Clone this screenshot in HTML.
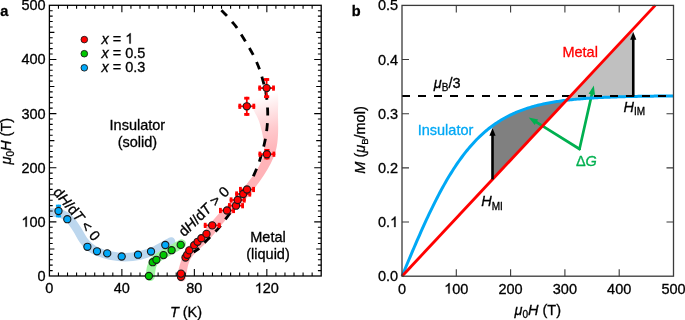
<!DOCTYPE html>
<html><head><meta charset="utf-8"><style>
html,body{margin:0;padding:0;background:#fff;width:685px;height:320px;overflow:hidden}
svg{display:block;will-change:transform}
text{font-family:"Liberation Sans", sans-serif;font-size:14.5px;stroke-width:0.3px}
</style></head><body>
<svg width="685" height="320" viewBox="0 0 685 320">
<style>text{stroke:#000}</style>
<rect width="685" height="320" fill="#fff"/>
<clipPath id="ca"><rect x="49.4" y="0" width="272" height="320"/></clipPath>
<path d="M50 212.5 C51.33 212.58 55.5 212.48 58 213 C60.5 213.52 62.83 214.3 65 215.6 C67.17 216.9 68.95 218.43 71 220.8 C73.05 223.17 75.25 226.6 77.3 229.8 C79.35 233 81.27 237.17 83.3 240 C85.33 242.83 87.13 244.87 89.5 246.8 C91.87 248.73 94.08 250.15 97.5 251.6 C100.92 253.05 105.42 254.57 110 255.5 C114.58 256.43 120 257.2 125 257.2 C130 257.2 135 256.65 140 255.5 C145 254.35 149.83 252.63 155 250.3 C160.17 247.97 168.33 242.97 171 241.5" fill="none" stroke="#bdd7ee" stroke-width="8.6" stroke-linecap="round" clip-path="url(#ca)"/>
<path d="M150.3 276.5 C150.47 275.08 150.6 270.67 151.3 268 C152 265.33 152.63 262.7 154.5 260.5 C156.37 258.3 159.65 256.62 162.5 254.8 C165.35 252.98 168.43 251.43 171.6 249.6 C174.77 247.77 179.85 244.77 181.5 243.8" fill="none" stroke="#a0f5a0" stroke-width="9" stroke-linecap="round"/>
<defs><linearGradient id="rg" gradientUnits="userSpaceOnUse" x1="256" y1="98" x2="272" y2="152"><stop offset="0" stop-color="#ffb3b8" stop-opacity="0"/><stop offset="0.25" stop-color="#ffb3b8" stop-opacity="0.3"/><stop offset="0.6" stop-color="#ffb3b8" stop-opacity="0.7"/><stop offset="1" stop-color="#ffb3b8" stop-opacity="1"/></linearGradient></defs>
<path d="M186 277 C186.12 276.17 186.18 274.5 186.7 272 C187.22 269.5 188.05 264.75 189.1 262 C190.15 259.25 191.27 257.67 193 255.5 C194.73 253.33 197.08 251.33 199.5 249 C201.92 246.67 204.67 244.5 207.5 241.5 C210.33 238.5 213.5 234.58 216.5 231 C219.5 227.42 222.33 223.5 225.5 220 C228.67 216.5 232.17 213.42 235.5 210 C238.83 206.58 242.17 203.33 245.5 199.5 C248.83 195.67 252.42 191.08 255.5 187 C258.58 182.92 261.42 179 264 175 C266.58 171 269 167.17 271 163 C273 158.83 274.83 154.67 276 150 C277.17 145.33 277.67 140.83 278 135 C278.33 129.17 278.08 122.17 278 115 C277.92 107.83 278.83 97.17 277.5 92 C276.17 86.83 273.25 84 270 84 C266.75 84 261.5 89.17 258 92 C254.5 94.83 249.75 98 249 101 C248.25 104 251.92 106.83 253.5 110 C255.08 113.17 257.08 116.33 258.5 120 C259.92 123.67 261.08 127.83 262 132 C262.92 136.17 263.75 141.17 264 145 C264.25 148.83 264.5 151.17 263.5 155 C262.5 158.83 260.42 163.67 258 168 C255.58 172.33 252.17 176.75 249 181 C245.83 185.25 242.42 189.67 239 193.5 C235.58 197.33 231.92 200.58 228.5 204 C225.08 207.42 221.67 210.58 218.5 214 C215.33 217.42 212.5 220.92 209.5 224.5 C206.5 228.08 203.33 232.58 200.5 235.5 C197.67 238.42 195.08 239.5 192.5 242 C189.92 244.5 186.97 247.17 185 250.5 C183.03 253.83 181.88 258.42 180.7 262 C179.52 265.58 178.52 269.5 177.9 272 C177.28 274.5 177.15 276.17 177 277 A4.5 4.5 0 0 0 186 277 Z" fill="url(#rg)" stroke="none"/>
<rect x="49.4" y="5.3" width="271.8" height="270.7" fill="none" stroke="#000" stroke-width="1.3"/>
<path d="M58.46 276 V272.5 M58.46 5.3 V8.8 M67.52 276 V272.5 M67.52 5.3 V8.8 M76.58 276 V272.5 M76.58 5.3 V8.8 M85.64 276 V272.5 M85.64 5.3 V8.8 M94.7 276 V272.5 M94.7 5.3 V8.8 M103.76 276 V272.5 M103.76 5.3 V8.8 M112.82 276 V272.5 M112.82 5.3 V8.8 M121.88 276 V269 M121.88 5.3 V12.3 M130.94 276 V272.5 M130.94 5.3 V8.8 M140 276 V272.5 M140 5.3 V8.8 M149.06 276 V272.5 M149.06 5.3 V8.8 M158.12 276 V272.5 M158.12 5.3 V8.8 M167.18 276 V272.5 M167.18 5.3 V8.8 M176.24 276 V272.5 M176.24 5.3 V8.8 M185.3 276 V272.5 M185.3 5.3 V8.8 M194.36 276 V269 M194.36 5.3 V12.3 M203.42 276 V272.5 M203.42 5.3 V8.8 M212.48 276 V272.5 M212.48 5.3 V8.8 M221.54 276 V272.5 M221.54 5.3 V8.8 M230.6 276 V272.5 M230.6 5.3 V8.8 M239.66 276 V272.5 M239.66 5.3 V8.8 M248.72 276 V272.5 M248.72 5.3 V8.8 M257.78 276 V272.5 M257.78 5.3 V8.8 M266.84 276 V269 M266.84 5.3 V12.3 M275.9 276 V272.5 M275.9 5.3 V8.8 M284.96 276 V272.5 M284.96 5.3 V8.8 M294.02 276 V272.5 M294.02 5.3 V8.8 M303.08 276 V272.5 M303.08 5.3 V8.8 M312.14 276 V272.5 M312.14 5.3 V8.8 M49.4 270.59 H52.7 M321.2 270.59 H317.9 M49.4 265.17 H52.7 M321.2 265.17 H317.9 M49.4 259.76 H52.7 M321.2 259.76 H317.9 M49.4 254.34 H52.7 M321.2 254.34 H317.9 M49.4 248.93 H54.4 M321.2 248.93 H316.2 M49.4 243.52 H52.7 M321.2 243.52 H317.9 M49.4 238.1 H52.7 M321.2 238.1 H317.9 M49.4 232.69 H52.7 M321.2 232.69 H317.9 M49.4 227.27 H52.7 M321.2 227.27 H317.9 M49.4 221.86 H56.4 M321.2 221.86 H314.2 M49.4 216.45 H52.7 M321.2 216.45 H317.9 M49.4 211.03 H52.7 M321.2 211.03 H317.9 M49.4 205.62 H52.7 M321.2 205.62 H317.9 M49.4 200.2 H52.7 M321.2 200.2 H317.9 M49.4 194.79 H54.4 M321.2 194.79 H316.2 M49.4 189.38 H52.7 M321.2 189.38 H317.9 M49.4 183.96 H52.7 M321.2 183.96 H317.9 M49.4 178.55 H52.7 M321.2 178.55 H317.9 M49.4 173.13 H52.7 M321.2 173.13 H317.9 M49.4 167.72 H56.4 M321.2 167.72 H314.2 M49.4 162.31 H52.7 M321.2 162.31 H317.9 M49.4 156.89 H52.7 M321.2 156.89 H317.9 M49.4 151.48 H52.7 M321.2 151.48 H317.9 M49.4 146.06 H52.7 M321.2 146.06 H317.9 M49.4 140.65 H54.4 M321.2 140.65 H316.2 M49.4 135.24 H52.7 M321.2 135.24 H317.9 M49.4 129.82 H52.7 M321.2 129.82 H317.9 M49.4 124.41 H52.7 M321.2 124.41 H317.9 M49.4 118.99 H52.7 M321.2 118.99 H317.9 M49.4 113.58 H56.4 M321.2 113.58 H314.2 M49.4 108.17 H52.7 M321.2 108.17 H317.9 M49.4 102.75 H52.7 M321.2 102.75 H317.9 M49.4 97.34 H52.7 M321.2 97.34 H317.9 M49.4 91.92 H52.7 M321.2 91.92 H317.9 M49.4 86.51 H54.4 M321.2 86.51 H316.2 M49.4 81.1 H52.7 M321.2 81.1 H317.9 M49.4 75.68 H52.7 M321.2 75.68 H317.9 M49.4 70.27 H52.7 M321.2 70.27 H317.9 M49.4 64.85 H52.7 M321.2 64.85 H317.9 M49.4 59.44 H56.4 M321.2 59.44 H314.2 M49.4 54.03 H52.7 M321.2 54.03 H317.9 M49.4 48.61 H52.7 M321.2 48.61 H317.9 M49.4 43.2 H52.7 M321.2 43.2 H317.9 M49.4 37.78 H52.7 M321.2 37.78 H317.9 M49.4 32.37 H54.4 M321.2 32.37 H316.2 M49.4 26.96 H52.7 M321.2 26.96 H317.9 M49.4 21.54 H52.7 M321.2 21.54 H317.9 M49.4 16.13 H52.7 M321.2 16.13 H317.9 M49.4 10.71 H52.7 M321.2 10.71 H317.9" stroke="#000" stroke-width="1.1" fill="none"/>
<text x="49.4" y="293.1" text-anchor="middle">0</text>
<text x="121.88" y="293.1" text-anchor="middle">40</text>
<text x="194.36" y="293.1" text-anchor="middle">80</text>
<text x="266.84" y="293.1" text-anchor="middle">&#8199;20</text>
<text x="45.6" y="281" text-anchor="end">0</text>
<text x="45.6" y="226.86" text-anchor="end">&#8199;00</text>
<text x="45.6" y="172.72" text-anchor="end">200</text>
<text x="45.6" y="118.58" text-anchor="end">300</text>
<text x="45.6" y="64.44" text-anchor="end">400</text>
<text x="45.6" y="10.3" text-anchor="end">500</text>
<text x="186" y="317" text-anchor="middle"><tspan font-style="italic">T</tspan> (K)</text>
<text transform="translate(11.1 141.2) rotate(-90)" text-anchor="middle"><tspan font-style="italic">&#956;</tspan><tspan font-size="10" dy="3">0</tspan><tspan font-style="italic" dy="-3">H</tspan> (T)</text>
<text x="0.3" y="15.6" font-weight="bold">a</text>
<path d="M216.5 5.3 C217.32 6.13 219.8 8.68 221.4 10.3 C223 11.92 224.3 13.05 226.1 15 C227.9 16.95 230.45 19.93 232.2 22 C233.95 24.07 235.17 25.42 236.6 27.4 C238.03 29.38 239.37 31.63 240.8 33.9 C242.23 36.17 243.8 38.7 245.2 41 C246.6 43.3 247.88 45.42 249.2 47.7 C250.52 49.98 251.82 52.2 253.1 54.7 C254.38 57.2 255.82 60.22 256.9 62.7 C257.98 65.18 258.73 67.1 259.6 69.6 C260.47 72.1 261.35 75.13 262.1 77.7 C262.85 80.27 263.47 82.45 264.1 85 C264.73 87.55 265.42 90.42 265.9 93 C266.38 95.58 266.72 97.83 267 100.5 C267.28 103.17 267.48 106.33 267.6 109 C267.72 111.67 267.75 113.93 267.7 116.5 C267.65 119.07 267.5 121.78 267.3 124.4 C267.1 127.02 266.83 129.68 266.5 132.2 C266.17 134.72 265.78 137.05 265.3 139.5 C264.82 141.95 264.2 144.52 263.6 146.9 C263 149.28 262.4 151.37 261.7 153.8 C261 156.23 260.27 158.97 259.4 161.5 C258.53 164.03 257.57 166.42 256.5 169 C255.43 171.58 253.58 175.67 253 177" fill="none" stroke="#000" stroke-width="2.8" stroke-dasharray="8 7.7" stroke-dashoffset="8.7"/>
<path d="M238 202 C237.2 203.13 234.82 206.55 233.2 208.8 C231.58 211.05 229.9 213.35 228.3 215.5 C226.7 217.65 225.18 219.65 223.6 221.7 C222.02 223.75 220.43 225.88 218.8 227.8 C217.17 229.72 215.48 231.43 213.8 233.2 C212.12 234.97 210.3 236.77 208.7 238.4 C207.1 240.03 205.68 241.43 204.2 243 C202.72 244.57 201.57 246.28 199.8 247.8 C198.03 249.32 194.63 251.38 193.6 252.1" fill="none" stroke="#000" stroke-width="2.8" stroke-dasharray="8 7.7" stroke-dashoffset="2.2"/>
<path d="M58.5 204.7 V217.3" stroke="#00a9fa" stroke-width="1.8" fill="none"/><rect x="55.9" y="204.7" width="5.2" height="2.2" fill="#00a9fa"/><rect x="55.9" y="215.1" width="5.2" height="2.2" fill="#00a9fa"/>
<circle cx="58.5" cy="211" r="3.6" fill="#00a9fa" stroke="#1a1a1a" stroke-width="1.1"/>
<circle cx="67.3" cy="219.2" r="3.6" fill="#00a9fa" stroke="#1a1a1a" stroke-width="1.1"/>
<circle cx="87.4" cy="246.8" r="3.6" fill="#00a9fa" stroke="#1a1a1a" stroke-width="1.1"/>
<circle cx="97" cy="251.3" r="3.6" fill="#00a9fa" stroke="#1a1a1a" stroke-width="1.1"/>
<circle cx="107.2" cy="253.4" r="3.6" fill="#00a9fa" stroke="#1a1a1a" stroke-width="1.1"/>
<circle cx="121.7" cy="256.5" r="3.6" fill="#00a9fa" stroke="#1a1a1a" stroke-width="1.1"/>
<circle cx="138" cy="254.7" r="3.6" fill="#00a9fa" stroke="#1a1a1a" stroke-width="1.1"/>
<circle cx="151" cy="251.5" r="3.6" fill="#00a9fa" stroke="#1a1a1a" stroke-width="1.1"/>
<circle cx="165.3" cy="245" r="3.6" fill="#00a9fa" stroke="#1a1a1a" stroke-width="1.1"/>
<circle cx="148.9" cy="276" r="3.6" fill="#00c800" stroke="#1a1a1a" stroke-width="1.1"/>
<circle cx="152.7" cy="262.2" r="3.6" fill="#00c800" stroke="#1a1a1a" stroke-width="1.1"/>
<circle cx="156.4" cy="259.8" r="3.6" fill="#00c800" stroke="#1a1a1a" stroke-width="1.1"/>
<circle cx="163.5" cy="255.1" r="3.6" fill="#00c800" stroke="#1a1a1a" stroke-width="1.1"/>
<circle cx="171.6" cy="250.2" r="3.6" fill="#00c800" stroke="#1a1a1a" stroke-width="1.1"/>
<circle cx="180.7" cy="244.9" r="3.6" fill="#00c800" stroke="#1a1a1a" stroke-width="1.1"/>
<path d="M258.3 88.1 H274.9" stroke="#ff0000" stroke-width="1.8" fill="none"/><rect x="258.3" y="85.5" width="2.8" height="5.2" fill="#ff0000"/><rect x="272.1" y="85.5" width="2.8" height="5.2" fill="#ff0000"/><path d="M266.6 78.1 V98.1" stroke="#ff0000" stroke-width="1.8" fill="none"/><rect x="264" y="78.1" width="5.2" height="2.8" fill="#ff0000"/><rect x="264" y="95.3" width="5.2" height="2.8" fill="#ff0000"/>
<path d="M238.4 106.3 H255.2" stroke="#ff0000" stroke-width="1.8" fill="none"/><rect x="238.4" y="103.7" width="2.8" height="5.2" fill="#ff0000"/><rect x="252.4" y="103.7" width="2.8" height="5.2" fill="#ff0000"/><path d="M246.8 96.8 V115.8" stroke="#ff0000" stroke-width="1.8" fill="none"/><rect x="244.2" y="96.8" width="5.2" height="2.8" fill="#ff0000"/><rect x="244.2" y="113" width="5.2" height="2.8" fill="#ff0000"/>
<path d="M258.5 154.2 H275.3" stroke="#ff0000" stroke-width="1.8" fill="none"/><rect x="258.5" y="151.6" width="2.8" height="5.2" fill="#ff0000"/><rect x="272.5" y="151.6" width="2.8" height="5.2" fill="#ff0000"/><path d="M266.9 149 V159.4" stroke="#ff0000" stroke-width="1.8" fill="none"/><rect x="264.3" y="149" width="5.2" height="2.8" fill="#ff0000"/><rect x="264.3" y="156.6" width="5.2" height="2.8" fill="#ff0000"/>
<path d="M239 189.5 H255" stroke="#ff0000" stroke-width="1.8" fill="none"/><rect x="239" y="186.9" width="2.8" height="5.2" fill="#ff0000"/><rect x="252.2" y="186.9" width="2.8" height="5.2" fill="#ff0000"/><path d="M247 186.5 V192.5" stroke="#ff0000" stroke-width="1.8" fill="none"/><rect x="244.4" y="186.5" width="5.2" height="2.8" fill="#ff0000"/><rect x="244.4" y="189.7" width="5.2" height="2.8" fill="#ff0000"/>
<path d="M235.2 194 H251.2" stroke="#ff0000" stroke-width="1.8" fill="none"/><rect x="235.2" y="191.4" width="2.8" height="5.2" fill="#ff0000"/><rect x="248.4" y="191.4" width="2.8" height="5.2" fill="#ff0000"/><path d="M243.2 191 V197" stroke="#ff0000" stroke-width="1.8" fill="none"/><rect x="240.6" y="191" width="5.2" height="2.8" fill="#ff0000"/><rect x="240.6" y="194.2" width="5.2" height="2.8" fill="#ff0000"/>
<path d="M229.7 200 H245.7" stroke="#ff0000" stroke-width="1.8" fill="none"/><rect x="229.7" y="197.4" width="2.8" height="5.2" fill="#ff0000"/><rect x="242.9" y="197.4" width="2.8" height="5.2" fill="#ff0000"/><path d="M237.7 197 V203" stroke="#ff0000" stroke-width="1.8" fill="none"/><rect x="235.1" y="197" width="5.2" height="2.8" fill="#ff0000"/><rect x="235.1" y="200.2" width="5.2" height="2.8" fill="#ff0000"/>
<path d="M228 205.7 H244" stroke="#ff0000" stroke-width="1.8" fill="none"/><rect x="228" y="203.1" width="2.8" height="5.2" fill="#ff0000"/><rect x="241.2" y="203.1" width="2.8" height="5.2" fill="#ff0000"/><path d="M236 202.7 V208.7" stroke="#ff0000" stroke-width="1.8" fill="none"/><rect x="233.4" y="202.7" width="5.2" height="2.8" fill="#ff0000"/><rect x="233.4" y="205.9" width="5.2" height="2.8" fill="#ff0000"/>
<path d="M219 210.5 H235" stroke="#ff0000" stroke-width="1.8" fill="none"/><rect x="219" y="207.9" width="2.8" height="5.2" fill="#ff0000"/><rect x="232.2" y="207.9" width="2.8" height="5.2" fill="#ff0000"/><path d="M227 207.5 V213.5" stroke="#ff0000" stroke-width="1.8" fill="none"/><rect x="224.4" y="207.5" width="5.2" height="2.8" fill="#ff0000"/><rect x="224.4" y="210.7" width="5.2" height="2.8" fill="#ff0000"/>
<path d="M203.8 225.4 H220.6" stroke="#ff0000" stroke-width="1.8" fill="none"/><rect x="203.8" y="222.8" width="2.8" height="5.2" fill="#ff0000"/><rect x="217.8" y="222.8" width="2.8" height="5.2" fill="#ff0000"/><path d="M212.2 222.4 V228.4" stroke="#ff0000" stroke-width="1.8" fill="none"/><rect x="209.6" y="222.4" width="5.2" height="2.8" fill="#ff0000"/><rect x="209.6" y="225.6" width="5.2" height="2.8" fill="#ff0000"/>
<circle cx="181" cy="276.8" r="3.6" fill="#ff0000" stroke="#1a1a1a" stroke-width="1.1"/>
<circle cx="181" cy="273.6" r="3.6" fill="#ff0000" stroke="#1a1a1a" stroke-width="1.1"/>
<circle cx="185.5" cy="257.5" r="3.6" fill="#ff0000" stroke="#1a1a1a" stroke-width="1.1"/>
<circle cx="187.2" cy="254.8" r="3.6" fill="#ff0000" stroke="#1a1a1a" stroke-width="1.1"/>
<circle cx="189.3" cy="250.4" r="3.6" fill="#ff0000" stroke="#1a1a1a" stroke-width="1.1"/>
<circle cx="194.2" cy="245.2" r="3.6" fill="#ff0000" stroke="#1a1a1a" stroke-width="1.1"/>
<circle cx="197.6" cy="241.8" r="3.6" fill="#ff0000" stroke="#1a1a1a" stroke-width="1.1"/>
<circle cx="201.4" cy="238.2" r="3.6" fill="#ff0000" stroke="#1a1a1a" stroke-width="1.1"/>
<circle cx="206.5" cy="233.9" r="3.6" fill="#ff0000" stroke="#1a1a1a" stroke-width="1.1"/>
<circle cx="212.2" cy="225.4" r="3.6" fill="#ff0000" stroke="#1a1a1a" stroke-width="1.1"/>
<circle cx="227" cy="210.5" r="3.6" fill="#ff0000" stroke="#1a1a1a" stroke-width="1.1"/>
<circle cx="236" cy="205.7" r="3.6" fill="#ff0000" stroke="#1a1a1a" stroke-width="1.1"/>
<circle cx="237.7" cy="200" r="3.6" fill="#ff0000" stroke="#1a1a1a" stroke-width="1.1"/>
<circle cx="243.2" cy="194" r="3.6" fill="#ff0000" stroke="#1a1a1a" stroke-width="1.1"/>
<circle cx="247" cy="189.5" r="3.6" fill="#ff0000" stroke="#1a1a1a" stroke-width="1.1"/>
<circle cx="266.9" cy="154.2" r="3.6" fill="#ff0000" stroke="#1a1a1a" stroke-width="1.1"/>
<circle cx="246.8" cy="106.3" r="3.6" fill="#ff0000" stroke="#1a1a1a" stroke-width="1.1"/>
<circle cx="266.6" cy="88.1" r="3.6" fill="#ff0000" stroke="#1a1a1a" stroke-width="1.1"/>
<text x="137.4" y="130" text-anchor="middle">Insulator</text>
<text x="137.4" y="147.1" text-anchor="middle">(solid)</text>
<text x="268" y="241.6" text-anchor="middle">Metal</text>
<text x="268" y="258.5" text-anchor="middle">(liquid)</text>
<text transform="translate(52.6 192.4) rotate(50.5)">d<tspan font-style="italic">H</tspan>/d<tspan font-style="italic">T</tspan> &lt; 0</text>
<text transform="translate(184.3 237.3) rotate(-44)">d<tspan font-style="italic">H</tspan>/d<tspan font-style="italic">T</tspan> &gt; 0</text>
<circle cx="84.3" cy="39.6" r="3.3" fill="#ff0000" stroke="#1a1a1a" stroke-width="0.9"/>
<text x="101.5" y="43.6"><tspan font-style="italic">x</tspan> = &#8199;</text>
<circle cx="84.3" cy="53.7" r="3.3" fill="#00c800" stroke="#1a1a1a" stroke-width="0.9"/>
<text x="101.5" y="57.7"><tspan font-style="italic">x</tspan> = 0.5</text>
<circle cx="84.3" cy="67.8" r="3.3" fill="#00a9fa" stroke="#1a1a1a" stroke-width="0.9"/>
<text x="101.5" y="71.8"><tspan font-style="italic">x</tspan> = 0.3</text>
<path d="M492.5 125.79 L494.35 124.46 L496.2 123.19 L498.05 121.97 L499.9 120.8 L501.75 119.68 L503.6 118.6 L505.46 117.57 L507.31 116.58 L509.16 115.64 L511.01 114.73 L512.86 113.87 L514.71 113.04 L516.56 112.25 L518.41 111.49 L520.26 110.76 L522.11 110.07 L523.96 109.41 L525.81 108.77 L527.66 108.17 L529.51 107.59 L531.37 107.04 L533.22 106.51 L535.07 106.01 L536.92 105.53 L538.77 105.07 L540.62 104.63 L542.47 104.21 L544.32 103.81 L546.17 103.43 L548.02 103.07 L549.87 102.72 L551.72 102.39 L553.57 102.07 L555.42 101.77 L557.28 101.48 L559.13 101.21 L560.98 100.95 L562.83 100.7 L564.68 100.46 L566.53 100.24 L566.53 100.24 L564.68 102.21 L562.83 104.19 L560.98 106.17 L559.13 108.15 L557.28 110.13 L555.42 112.11 L553.57 114.09 L551.72 116.07 L549.87 118.05 L548.02 120.03 L546.17 122.01 L544.32 123.99 L542.47 125.97 L540.62 127.95 L538.77 129.93 L536.92 131.9 L535.07 133.88 L533.22 135.86 L531.37 137.84 L529.51 139.82 L527.66 141.8 L525.81 143.78 L523.96 145.76 L522.11 147.74 L520.26 149.72 L518.41 151.7 L516.56 153.68 L514.71 155.66 L512.86 157.64 L511.01 159.62 L509.16 161.6 L507.31 163.57 L505.46 165.55 L503.6 167.53 L501.75 169.51 L499.9 171.49 L498.05 173.47 L496.2 175.45 L494.35 177.43 L492.5 179.41Z" fill="#808080"/>
<path d="M566.53 100.24 L568.2 98.45 L569.87 96.67 L571.53 94.88 L573.2 93.1 L574.87 91.32 L576.54 89.53 L578.21 87.75 L579.87 85.96 L581.54 84.18 L583.21 82.4 L584.88 80.61 L586.55 78.83 L588.21 77.04 L589.88 75.26 L591.55 73.48 L593.22 71.69 L594.89 69.91 L596.55 68.12 L598.22 66.34 L599.89 64.56 L601.56 62.77 L603.23 60.99 L604.89 59.2 L606.56 57.42 L608.23 55.64 L609.9 53.85 L611.57 52.07 L613.23 50.28 L614.9 48.5 L616.57 46.72 L618.24 44.93 L619.91 43.15 L621.57 41.36 L623.24 39.58 L624.91 37.8 L626.58 36.01 L628.25 34.23 L629.91 32.44 L631.58 30.66 L633.25 28.88 L633.25 96.46 L631.58 96.49 L629.91 96.53 L628.25 96.57 L626.58 96.61 L624.91 96.65 L623.24 96.69 L621.57 96.74 L619.91 96.79 L618.24 96.84 L616.57 96.89 L614.9 96.95 L613.23 97 L611.57 97.07 L609.9 97.13 L608.23 97.19 L606.56 97.26 L604.89 97.33 L603.23 97.41 L601.56 97.49 L599.89 97.57 L598.22 97.65 L596.55 97.74 L594.89 97.84 L593.22 97.93 L591.55 98.04 L589.88 98.14 L588.21 98.25 L586.55 98.37 L584.88 98.49 L583.21 98.62 L581.54 98.75 L579.87 98.89 L578.21 99.03 L576.54 99.18 L574.87 99.34 L573.2 99.5 L571.53 99.67 L569.87 99.85 L568.2 100.04 L566.53 100.24Z" fill="#c0c0c0"/>
<path d="M528.75 117.5 L579.5 149 L594 86.25" fill="none" stroke="none"/>
<line x1="579.5" y1="149" x2="535.55" y2="121.72" stroke="#00b050" stroke-width="2.7" stroke-linecap="round"/><path d="M528.75 117.5 L538.14 119.44 L534.66 125.05 Z" fill="#00b050"/>
<line x1="579.5" y1="149" x2="592.04" y2="93.4" stroke="#00b050" stroke-width="2.7" stroke-linecap="round"/><path d="M593.8 85.6 L595.04 95.11 L588.6 93.65 Z" fill="#00b050"/>
<path d="M579.5 149 L579.5 149" stroke="#00b050" stroke-width="2.6" stroke-linecap="round"/>
<path d="M402 276.2 L403.36 272.96 L404.71 269.71 L406.07 266.47 L407.43 263.24 L408.79 260.02 L410.14 256.8 L411.5 253.6 L412.86 250.42 L414.22 247.25 L415.57 244.09 L416.93 240.96 L418.29 237.85 L419.65 234.77 L421 231.7 L422.36 228.67 L423.72 225.66 L425.08 222.69 L426.44 219.74 L427.79 216.83 L429.15 213.96 L430.51 211.12 L431.87 208.31 L433.22 205.54 L434.58 202.81 L435.94 200.13 L437.3 197.48 L438.65 194.87 L440.01 192.3 L441.37 189.78 L442.73 187.3 L444.08 184.87 L445.44 182.47 L446.8 180.12 L448.15 177.82 L449.51 175.56 L450.87 173.35 L452.23 171.18 L453.58 169.05 L454.94 166.97 L456.3 164.94 L457.66 162.95 L459.01 161 L460.37 159.1 L461.73 157.24 L463.09 155.43 L464.44 153.66 L465.8 151.93 L467.16 150.24 L468.52 148.6 L469.88 146.99 L471.23 145.43 L472.59 143.91 L473.95 142.43 L475.31 140.98 L476.66 139.58 L478.02 138.21 L479.38 136.88 L480.74 135.58 L482.09 134.33 L483.45 133.1 L484.81 131.91 L486.17 130.76 L487.52 129.63 L488.88 128.54 L490.24 127.49 L491.6 126.46 L492.95 125.46 L494.31 124.49 L495.67 123.55 L497.02 122.64 L498.38 121.76 L499.74 120.9 L501.1 120.07 L502.45 119.26 L503.81 118.48 L505.17 117.73 L506.53 116.99 L507.88 116.28 L509.24 115.6 L510.6 114.93 L511.96 114.29 L513.32 113.66 L514.67 113.06 L516.03 112.47 L517.39 111.9 L518.75 111.36 L520.1 110.82 L521.46 110.31 L522.82 109.81 L524.17 109.33 L525.53 108.87 L526.89 108.42 L528.25 107.98 L529.61 107.56 L530.96 107.16 L532.32 106.76 L533.68 106.38 L535.03 106.02 L536.39 105.66 L537.75 105.32 L539.11 104.98 L540.47 104.66 L541.82 104.35 L543.18 104.05 L544.54 103.76 L545.89 103.48 L547.25 103.21 L548.61 102.95 L549.97 102.7 L551.33 102.46 L552.68 102.22 L554.04 101.99 L555.4 101.77 L556.75 101.56 L558.11 101.36 L559.47 101.16 L560.83 100.97 L562.18 100.78 L563.54 100.61 L564.9 100.43 L566.26 100.27 L567.62 100.11 L568.97 99.95 L570.33 99.8 L571.69 99.66 L573.04 99.52 L574.4 99.38 L575.76 99.25 L577.12 99.13 L578.48 99.01 L579.83 98.89 L581.19 98.78 L582.55 98.67 L583.9 98.56 L585.26 98.46 L586.62 98.36 L587.98 98.27 L589.34 98.18 L590.69 98.09 L592.05 98.01 L593.41 97.92 L594.76 97.84 L596.12 97.77 L597.48 97.69 L598.84 97.62 L600.19 97.55 L601.55 97.49 L602.91 97.42 L604.27 97.36 L605.62 97.3 L606.98 97.24 L608.34 97.19 L609.7 97.14 L611.06 97.08 L612.41 97.03 L613.77 96.99 L615.13 96.94 L616.49 96.89 L617.84 96.85 L619.2 96.81 L620.56 96.77 L621.91 96.73 L623.27 96.69 L624.63 96.66 L625.99 96.62 L627.35 96.59 L628.7 96.56 L630.06 96.52 L631.42 96.49 L632.77 96.47 L634.13 96.44 L635.49 96.41 L636.85 96.38 L638.21 96.36 L639.56 96.33 L640.92 96.31 L642.28 96.29 L643.63 96.27 L644.99 96.25 L646.35 96.22 L647.71 96.2 L649.07 96.19 L650.42 96.17 L651.78 96.15 L653.14 96.13 L654.5 96.12 L655.85 96.1 L657.21 96.09 L658.57 96.07 L659.92 96.06 L661.28 96.04 L662.64 96.03 L664 96.02 L665.36 96 L666.71 95.99 L668.07 95.98 L669.43 95.97 L670.79 95.96 L672.14 95.95 L673.5 95.94" fill="none" stroke="#00a8f5" stroke-width="3"/>
<line x1="402" y1="96" x2="673.5" y2="96" stroke="#000" stroke-width="2.2" stroke-dasharray="8 8"/>
<line x1="402" y1="276.2" x2="655.2" y2="5.4" stroke="#ff0000" stroke-width="2.85"/>
<line x1="492.5" y1="179.41" x2="492.5" y2="134.8" stroke="#000" stroke-width="2.6"/><path d="M492.5 128 L489.4 135.8 L495.6 135.8 Z" fill="#000"/>
<line x1="633.25" y1="96.5" x2="633.25" y2="38.8" stroke="#000" stroke-width="2.6"/><path d="M633.25 32 L630.15 39.8 L636.35 39.8 Z" fill="#000"/>
<rect x="402" y="5.4" width="271.5" height="270.8" fill="none" stroke="#3a3a3a" stroke-width="1.3"/>
<path d="M456.3 276.2 V269.2 M456.3 5.4 V12.4 M510.6 276.2 V269.2 M510.6 5.4 V12.4 M564.9 276.2 V269.2 M564.9 5.4 V12.4 M619.2 276.2 V269.2 M619.2 5.4 V12.4 M402 222.04 H409 M673.5 222.04 H666.5 M402 167.88 H409 M673.5 167.88 H666.5 M402 113.72 H409 M673.5 113.72 H666.5 M402 59.56 H409 M673.5 59.56 H666.5" stroke="#3a3a3a" stroke-width="1.1" fill="none"/>
<text x="402" y="293.5" text-anchor="middle">0</text>
<text x="456.3" y="293.5" text-anchor="middle">&#8199;00</text>
<text x="510.6" y="293.5" text-anchor="middle">200</text>
<text x="564.9" y="293.5" text-anchor="middle">300</text>
<text x="619.2" y="293.5" text-anchor="middle">400</text>
<text x="673.5" y="293.5" text-anchor="middle">500</text>
<text x="398.2" y="281.2" text-anchor="end">0.0</text>
<text x="398.2" y="227.04" text-anchor="end">0.&#8199;</text>
<text x="398.2" y="172.88" text-anchor="end">0.2</text>
<text x="398.2" y="118.72" text-anchor="end">0.3</text>
<text x="398.2" y="64.56" text-anchor="end">0.4</text>
<text x="398.2" y="10.4" text-anchor="end">0.5</text>
<text x="562.4" y="57.3" style="fill:#ff0000;stroke:#ff0000">Metal</text>
<text x="417.7" y="134.8" style="fill:#00a8f5;stroke:#00a8f5">Insulator</text>
<text x="575.9" y="165.9" style="fill:#00b050;stroke:#00b050">&#916;<tspan font-style="italic">G</tspan></text>
<text x="433.8" y="87.8"><tspan font-style="italic">&#956;</tspan><tspan font-size="10" dy="3">B</tspan><tspan dy="-3">/3</tspan></text>
<text x="481.3" y="206.3"><tspan font-style="italic">H</tspan><tspan font-size="10" dy="3.2">MI</tspan></text>
<text x="623.4" y="111.5"><tspan font-style="italic">H</tspan><tspan font-size="10" dy="3.2">IM</tspan></text>
<text x="537.7" y="315.1" text-anchor="middle"><tspan font-style="italic">&#956;</tspan><tspan font-size="10" dy="3.3">0</tspan><tspan font-style="italic" dy="-3.3">H</tspan> (T)</text>
<text transform="translate(365.4 140) rotate(-90)" text-anchor="middle"><tspan font-style="italic">M</tspan> (<tspan font-style="italic">&#956;</tspan><tspan font-size="9.5" dy="2.5">B</tspan><tspan dy="-2.5">/mol)</tspan></text>
<text x="351.8" y="15.7" font-weight="bold">b</text>
<path transform="translate(254.74 293.1) scale(0.007080 -0.007080)" d="M763 0H583V1147Q518 1085 412 1023Q306 961 221 930V1104Q372 1175 485 1276Q598 1377 645 1472H763Z" fill="#000" stroke="#000" stroke-width="42.4"/>
<path transform="translate(21.4 226.86) scale(0.007080 -0.007080)" d="M763 0H583V1147Q518 1085 412 1023Q306 961 221 930V1104Q372 1175 485 1276Q598 1377 645 1472H763Z" fill="#000" stroke="#000" stroke-width="42.4"/>
<path transform="translate(125.27 43.6) scale(0.007080 -0.007080)" d="M763 0H583V1147Q518 1085 412 1023Q306 961 221 930V1104Q372 1175 485 1276Q598 1377 645 1472H763Z" fill="#000" stroke="#000" stroke-width="42.4"/>
<path transform="translate(444.2 293.5) scale(0.007080 -0.007080)" d="M763 0H583V1147Q518 1085 412 1023Q306 961 221 930V1104Q372 1175 485 1276Q598 1377 645 1472H763Z" fill="#000" stroke="#000" stroke-width="42.4"/>
<path transform="translate(390.11 227.04) scale(0.007080 -0.007080)" d="M763 0H583V1147Q518 1085 412 1023Q306 961 221 930V1104Q372 1175 485 1276Q598 1377 645 1472H763Z" fill="#000" stroke="#000" stroke-width="42.4"/>
</svg>
</body></html>
